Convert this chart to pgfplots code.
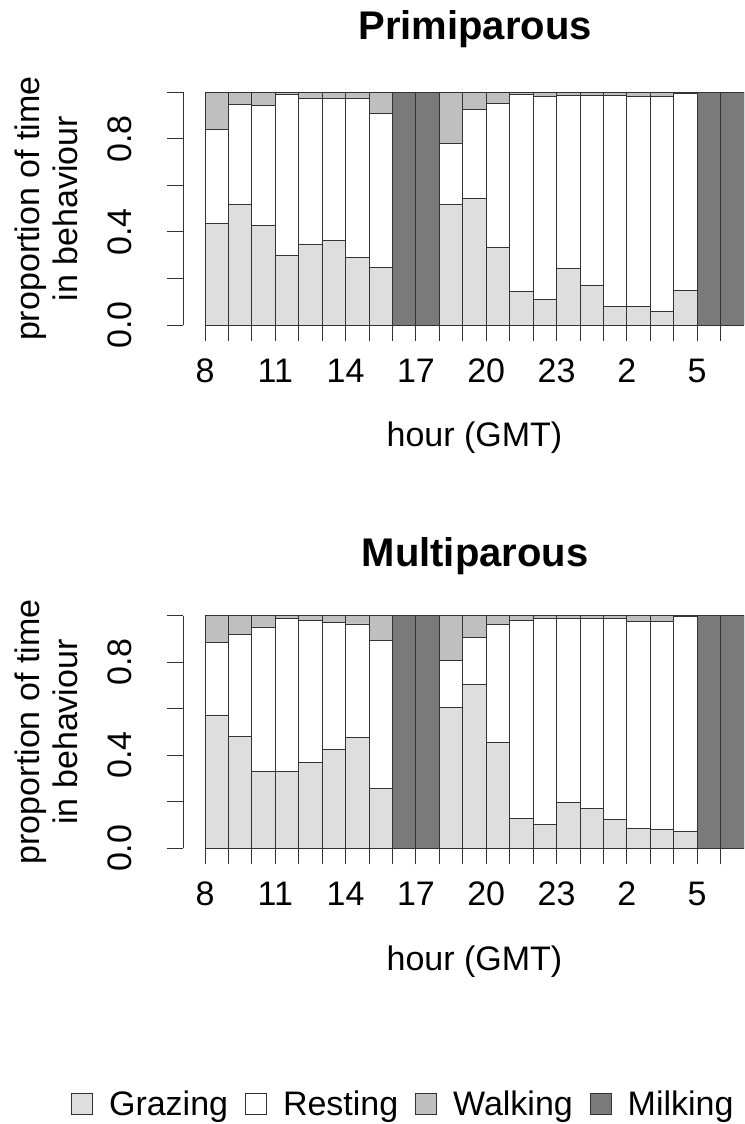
\documentclass[border=0pt]{standalone}
\usepackage{pgfplots}
\usepackage{pgfplotstable}
\usepackage{fontspec}
\setmainfont{Liberation Sans}
\pgfplotsset{compat=1.18}

\definecolor{graze}{gray}{0.87}
\definecolor{walk}{gray}{0.75}
\definecolor{milk}{gray}{0.48}
\definecolor{edge}{gray}{0.2}

% x = centre of the hourly bar (0.5 = 08:00 ... 22.5 = 06:00)
\pgfplotstableread{
x    G     R     W     M
0.5  0.437 0.403 0.160 0
1.5  0.519 0.427 0.054 0
2.5  0.427 0.516 0.057 0
3.5  0.297 0.692 0.011 0
4.5  0.347 0.627 0.026 0
5.5  0.364 0.610 0.026 0
6.5  0.289 0.685 0.026 0
7.5  0.246 0.662 0.092 0
8.5  0     0     0     1
9.5  0     0     0     1
10.5 0.517 0.262 0.221 0
11.5 0.544 0.382 0.074 0
12.5 0.332 0.618 0.050 0
13.5 0.143 0.846 0.011 0
14.5 0.110 0.871 0.019 0
15.5 0.241 0.745 0.014 0
16.5 0.172 0.814 0.014 0
17.5 0.079 0.907 0.014 0
18.5 0.079 0.902 0.019 0
19.5 0.057 0.924 0.019 0
20.5 0.148 0.845 0.007 0
21.5 0     0     0     1
22.5 0     0     0     1
}\primi

\pgfplotstableread{
x    G     R     W     M
0.5  0.573 0.311 0.116 0
1.5  0.481 0.439 0.080 0
2.5  0.331 0.620 0.049 0
3.5  0.331 0.656 0.013 0
4.5  0.368 0.613 0.019 0
5.5  0.424 0.546 0.030 0
6.5  0.476 0.488 0.036 0
7.5  0.256 0.639 0.105 0
8.5  0     0     0     1
9.5  0     0     0     1
10.5 0.605 0.204 0.191 0
11.5 0.703 0.204 0.093 0
12.5 0.456 0.507 0.037 0
13.5 0.129 0.852 0.019 0
14.5 0.103 0.884 0.013 0
15.5 0.198 0.789 0.013 0
16.5 0.172 0.815 0.013 0
17.5 0.123 0.864 0.013 0
18.5 0.086 0.888 0.026 0
19.5 0.080 0.894 0.026 0
20.5 0.074 0.922 0.004 0
21.5 0     0     0     1
22.5 0     0     0     1
}\multi

\pgfplotsset{
  panel/.style={
    scale only axis, width=539pt, height=232.7pt,
    xmin=0, xmax=23, ymin=0, ymax=1,
    ybar stacked, bar width=1, bar shift=0pt,
    axis x line=bottom, axis y line=left,
    axis y line shift=22pt,
    axis line style={-, black!80, line width=0.9pt},
    tick align=outside, major tick length=16pt,
    tick style={black!80, line width=0.9pt},
    xtick={0,...,22},
    xticklabels={8,,,11,,,14,,,17,,,20,,,23,,,2,,,5,,},
    ytick={0,0.2,0.4,0.6,0.8,1},
    yticklabels={0.0,,0.4,,0.8,},
    /pgf/number format/assume math mode=true,
    every tick label/.append style={font=\fontsize{34}{40}\selectfont},
    typeset ticklabels with strut,
    xticklabel shift=9.5pt,
    yticklabel shift=20pt,
    yticklabel style={rotate=90, anchor=south},
    ylabel={proportion of time\\in behaviour},
    ylabel style={at={(axis description cs:-0.294,0.5)}, anchor=center,
      align=center, font=\fontsize{34}{38}\selectfont},
    xlabel={hour (GMT)},
    xlabel style={at={(axis description cs:0.5,-0.524)}, anchor=base,
      font=\fontsize{34}{40}\selectfont},
    every axis plot/.append style={draw=edge, line width=0.9pt},
    legend image code/.code={\draw[#1] (0pt,-10pt) rectangle (21pt,11pt);},
  }
}

\begin{document}
\begin{tikzpicture}
\useasboundingbox (0,0) rectangle (744pt,1124pt);

\begin{axis}[panel, at={(205pt,799pt)}, anchor=south west,
  title={Primiparous},
  every axis title/.style={at={(axis description cs:0.501,1.225)},
    anchor=base, font=\bfseries\fontsize{40}{48}\selectfont}]
  \addplot[fill=graze] table[x=x, y=G] {\primi};
  \addplot[fill=white] table[x=x, y=R] {\primi};
  \addplot[fill=walk]  table[x=x, y=W] {\primi};
  \addplot[fill=milk]  table[x=x, y=M] {\primi};
\end{axis}

\begin{axis}[panel, at={(205pt,275.7pt)}, anchor=south west,
  title={Multiparous},
  every axis title/.style={at={(axis description cs:0.501,1.213)},
    anchor=base, font=\bfseries\fontsize{40}{48}\selectfont},
  legend columns=4,
  legend style={at={(axis description cs:0.368,-1.099)}, anchor=center,
    draw=none, fill=none, font=\fontsize{34}{40}\selectfont,
    /tikz/every odd column/.append style={column sep=14pt},
    /tikz/every even column/.append style={column sep=15pt}},
  legend cell align=left]
  \addplot[fill=graze] table[x=x, y=G] {\multi};
  \addplot[fill=white] table[x=x, y=R] {\multi};
  \addplot[fill=walk]  table[x=x, y=W] {\multi};
  \addplot[fill=milk]  table[x=x, y=M] {\multi};
  \legend{Grazing, Resting, Walking, Milking}
\end{axis}
\end{tikzpicture}
\end{document}
